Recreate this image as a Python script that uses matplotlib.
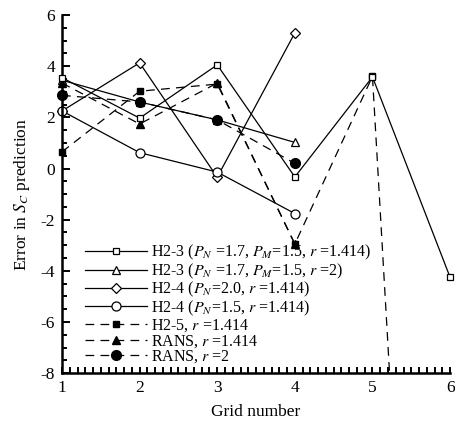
import numpy as np
import matplotlib
matplotlib.use('Agg')
import matplotlib.pyplot as plt
from matplotlib.patches import Rectangle
from matplotlib.ticker import MultipleLocator

plt.rcParams['font.family'] = ['Liberation Serif', 'DejaVu Serif']
plt.rcParams['mathtext.fontset'] = 'stix'
plt.rcParams['axes.unicode_minus'] = False

# values (grid number 1..6)
grid = [1, 2, 3, 4, 5, 6]
h23_r1414 = [3.55, 1.97, 4.05, -0.33, 3.58, -4.25]
h23_r2 = [3.45, 2.6, 1.9, 1.02]
h24_pn20 = [2.25, 4.13, -0.34, 5.3]
h24_pn15 = [2.25, 0.62, -0.14, -1.76]
h25_r1414 = [0.65, 3.02, 3.3, -2.95, 3.6, -49.0]
rans_r1414 = [3.34, 1.74, 3.34, -2.95]
rans_r2 = [2.86, 2.6, 1.9, 0.2]

labels = [
    r'H2-3 ($P_N$ =1.7, $P_M$=1.5, $r$ =1.414)',
    r'H2-3 ($P_N$ =1.7, $P_M$=1.5, $r$ =2)',
    r'H2-4 ($P_N$=2.0, $r$ =1.414)',
    r'H2-4 ($P_N$=1.5, $r$ =1.414)',
    r'H2-5, $r$ =1.414',
    r'RANS, $r$ =1.414',
    r'RANS, $r$ =2',
]

fig = plt.figure(figsize=(4.56, 4.28), dpi=100)
ax = fig.add_axes([0.136, 0.128, 0.851, 0.837])

lw = 0.9
dash = (7, 5)
open_kw = dict(color='black', lw=lw, mfc='white', mec='black', mew=0.9, clip_on=False)
fill_kw = dict(color='black', lw=lw, mfc='black', mec='black', clip_on=False)

l1, = ax.plot(grid[:len(h23_r1414)], h23_r1414, marker='s', ms=5, zorder=3, **open_kw)
l2, = ax.plot(grid[:len(h23_r2)], h23_r2, marker='^', ms=6, zorder=2, **open_kw)
l3, = ax.plot(grid[:len(h24_pn20)], h24_pn20, marker='D', ms=5, zorder=2, **open_kw)
l4, = ax.plot(grid[:len(h24_pn15)], h24_pn15, marker='o', ms=6.5, zorder=2.1, **open_kw)
l5, = ax.plot(grid[:len(h25_r1414)], h25_r1414, marker='s', ms=5, ls='--', dashes=dash, zorder=2.5, **fill_kw)
l6, = ax.plot(grid[:len(rans_r1414)], rans_r1414, marker='^', ms=6, ls='--', dashes=dash, zorder=2.6, **fill_kw)
l7, = ax.plot(grid[:len(rans_r2)], rans_r2, marker='o', ms=7, ls='--', dashes=dash, zorder=2.7, **fill_kw)

# H2-5 drops far below the axis: clip vertically only
l5.set_clip_path(Rectangle((-0.05, 0), 1.1, 1.1, transform=ax.transAxes))
l5.set_clip_on(True)

ax.set_xlim(1, 6)
ax.set_ylim(-8, 6)
ax.xaxis.set_major_locator(MultipleLocator(1))
ax.xaxis.set_minor_locator(MultipleLocator(0.1))
ax.yaxis.set_major_locator(MultipleLocator(2))
ax.yaxis.set_minor_locator(MultipleLocator(0.5))

for s in ['top', 'right']:
    ax.spines[s].set_visible(False)
for s in ['left', 'bottom']:
    ax.spines[s].set_linewidth(1.8)

ax.tick_params(axis='both', which='both', direction='in', width=1.4, labelsize=12.5)
ax.tick_params(axis='y', which='major', length=5.5, pad=5)
ax.tick_params(axis='y', which='minor', length=3.5)
ax.tick_params(axis='x', which='major', length=4.5, pad=5)
ax.tick_params(axis='x', which='minor', length=4.5)

ax.set_xlabel('Grid number', fontsize=12.5, labelpad=6)
ax.set_ylabel(r'Error in $S_C$ prediction', fontsize=12.5, labelpad=6)

ax.legend([l1, l2, l3, l4, l5, l6, l7], labels, loc='lower left',
          bbox_to_anchor=(0.035, -0.005), frameon=False, fontsize=11.5,
          handlelength=3.9, handletextpad=0.2, labelspacing=-0.05,
          borderaxespad=0.2)

fig.savefig('out.png', dpi=100)
